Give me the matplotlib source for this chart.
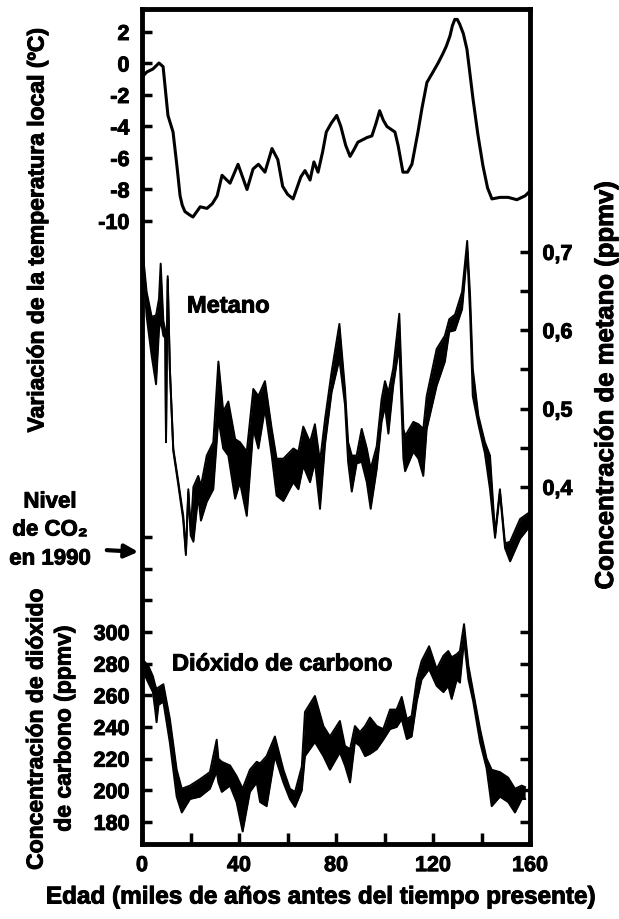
import matplotlib
matplotlib.use('Agg')
import matplotlib.pyplot as plt
import matplotlib.patheffects as pe

# ---------------- data ----------------
temp_age = [0, 2, 4.5, 7, 8.7, 10.7, 12.8, 14.4, 15.7, 16.6, 17.7, 19.5, 21, 24, 26.8,
            29, 31, 33, 36.3, 39.6, 43.3, 45.8, 48, 50.7, 53.6, 56, 58, 60, 62.3, 65.5,
            67.2, 69.3, 70.9, 72.6, 74.5, 76, 78, 80.3, 82, 84, 85.8, 87.3, 89, 92.8,
            94.8, 96.5, 98, 99.5, 101, 104.3, 105.6, 107.6, 109.5, 111.3, 113.8, 115.5,
            117.5, 120, 122, 124, 125.5, 127, 128, 129, 130, 131, 132.5, 134, 135.2,
            136.5, 138.5, 140.6, 142.5, 144.3, 147.6, 151, 154.6, 158, 160]
temp_val = [-0.86, -0.54, -0.35, 0.03, -0.2, -3.3, -4.35, -6.5, -8.4, -9.0, -9.4, -9.6,
            -9.75, -9.1, -9.2, -8.9, -8.4, -7.1, -7.6, -6.4, -8.0, -6.7, -6.4, -6.9, -5.4,
            -6.1, -7.8, -8.3, -8.6, -7.2, -6.8, -7.4, -6.25, -6.9, -5.6, -4.35, -3.8,
            -3.3, -4.0, -5.2, -5.9, -5.5, -5.0, -4.7, -4.6, -3.8, -3.0, -3.6, -4.0,
            -4.35, -5.2, -6.9, -6.9, -6.4, -4.35, -2.8, -1.2, -0.54, 0.0, 0.6, 1.1, 1.75,
            2.4, 2.8, 2.8, 2.5, 1.9, 0.9, -0.6, -2.25, -4.5, -6.5, -7.9, -8.6, -8.5,
            -8.5, -8.65, -8.4, -8.1]

ch4_age = [0.3, 1.9, 4.0, 5.8, 7.0, 7.7, 8.8, 9.6, 9.9, 10.3, 10.6, 11.5, 12.9, 15.0,
           17.0, 18.1, 19.1, 20.1, 21.2, 23.2, 24.3, 26.7, 29.4, 31.5, 33.5, 35.6, 38.4,
           40.4, 43.2, 45.9, 48.0, 50.7, 53.5, 55.5, 58.3, 62.4, 64.5, 66.5, 69.3, 71.3,
           73.4, 75.5, 78.2, 81.4, 83.7, 85.0, 86.5, 88.5, 90.6, 92.7, 94.3, 96.8, 98.8,
           100.2, 101.6, 103.6, 106.1, 107.8, 108.5, 111.9, 114.0, 116.0, 117.4, 121.5,
           124.9, 126.7, 129.1, 132.0, 134.1, 135.3, 136.4, 138.7, 141.4, 143.5, 145.6,
           147.6, 149.7, 151.8, 155.9, 160.0]
ch4_hi = [0.700, 0.649, 0.617, 0.619, 0.640, 0.685, 0.612, 0.600, 0.460, 0.590, 0.669,
          0.551, 0.449, 0.406, 0.363, 0.317, 0.397, 0.343, 0.400, 0.414, 0.401, 0.440,
          0.457, 0.560, 0.496, 0.509, 0.461, 0.457, 0.445, 0.525, 0.516, 0.535, 0.474,
          0.436, 0.436, 0.449, 0.445, 0.477, 0.457, 0.480, 0.432, 0.487, 0.547, 0.608,
          0.525, 0.457, 0.440, 0.440, 0.474, 0.449, 0.423, 0.452, 0.512, 0.535, 0.520,
          0.551, 0.621, 0.474, 0.465, 0.483, 0.480, 0.474, 0.516, 0.576, 0.593, 0.614,
          0.620, 0.649, 0.714, 0.644, 0.551, 0.491, 0.457, 0.440, 0.340, 0.397, 0.328,
          0.330, 0.359, 0.368]
ch4_lo = [0.690, 0.618, 0.567, 0.531, 0.600, 0.614, 0.593, 0.590, 0.457, 0.585, 0.665,
          0.548, 0.446, 0.402, 0.358, 0.313, 0.393, 0.338, 0.330, 0.389, 0.357, 0.381,
          0.397, 0.487, 0.449, 0.440, 0.385, 0.406, 0.363, 0.474, 0.449, 0.500, 0.440,
          0.389, 0.382, 0.406, 0.397, 0.427, 0.406, 0.432, 0.372, 0.455, 0.521, 0.563,
          0.505, 0.432, 0.394, 0.430, 0.432, 0.406, 0.372, 0.423, 0.483, 0.503, 0.468,
          0.529, 0.580, 0.436, 0.420, 0.445, 0.436, 0.414, 0.474, 0.529, 0.560, 0.598,
          0.600, 0.627, 0.700, 0.620, 0.516, 0.480, 0.443, 0.397, 0.335, 0.393, 0.322,
          0.305, 0.334, 0.350]

co2_age = [0.0, 2.6, 4.5, 5.5, 6.0, 6.8, 8.8, 11.5, 14.3, 16.4, 19.8, 23.9, 28.0, 30.8,
           31.5, 32.9, 36.3, 39.0, 41.5, 44.5, 47.3, 48.7, 51.4, 54.8, 58.3, 61.0, 63.1,
           65.9, 67.2, 71.3, 74.8, 77.5, 81.6, 83.7, 85.8, 87.8, 89.9, 92.0, 94.0, 96.8,
           99.5, 102.3, 105.0, 107.1, 109.2, 111.2, 113.3, 115.3, 118.4, 121.5, 124.3,
           126.3, 127.7, 129.8, 131.1, 132.8, 134.6, 136.6, 139.4, 142.1, 144.2, 147.6,
           151.0, 153.8, 156.6, 158.0]
co2_hi = [283, 278.7, 272, 266, 264, 265, 267, 245, 213, 201, 203, 207, 211.5, 232,
          220, 218, 215.7, 209, 201, 213, 218, 217, 221.6, 234, 213, 201, 199, 215,
          249.5, 259.6, 240.6, 234, 243.8, 228, 226, 240.6, 236.8, 240.6, 246, 240.6,
          238.7, 251, 251, 259, 245, 247, 270, 281.7, 291, 276.6, 285, 288, 284, 286,
          288, 305, 278.7, 262, 238.7, 220, 213, 211.5, 208, 201, 203, 202]
co2_lo = [276.6, 268, 262, 250, 243, 254, 256, 230, 196, 186, 194.5, 196, 201, 212,
          205, 199, 203, 192.6, 174, 199, 205, 192.6, 190, 221.6, 205, 194.5, 189.5, 200,
          221.6, 230.5, 221.6, 213, 224, 215.7, 205, 230.5, 228, 221.6, 223, 226, 232,
          238.7, 240, 245, 232.4, 234, 256, 270, 276.6, 266, 262, 266, 257.7, 270, 268,
          295, 270, 256, 230.5, 214, 190, 196, 192.6, 186, 194.5, 194.5]

x_major = [0, 40, 80, 120, 160]
x_minor = [20, 60, 100, 140]
temp_ticks = [2, 0, -2, -4, -6, -8, -10]
co2_ticks = [180, 200, 220, 240, 260, 280, 300]
co2_extra = [320, 340, 360]
ch4_ticks = [0.4, 0.5, 0.6, 0.7]
ch4_minor = [0.35, 0.45, 0.55, 0.65]

# ---------------- layout ----------------
FONT = ['Liberation Sans', 'DejaVu Sans']
plt.rcParams['font.family'] = FONT
plt.rcParams['font.weight'] = 'bold'
HEAVY = [pe.withStroke(linewidth=0.7, foreground='black')]

W, H = 619, 920
fig = plt.figure(figsize=(W / 100, H / 100), dpi=100)
fig.patch.set_facecolor('white')
L, R, T, B = 142, 530, 10, 845
rect = [L / W, 1 - B / H, (R - L) / W, (B - T) / H]

ax_t = fig.add_axes(rect)
ax_c = fig.add_axes(rect)
ax_m = fig.add_axes(rect)
ax_c2 = fig.add_axes(rect)
for a in (ax_c, ax_m, ax_c2):
    a.patch.set_visible(False)
    for s in a.spines.values():
        s.set_visible(False)
    a.set_xticks([])
for a in (ax_t, ax_c, ax_m, ax_c2):
    a.set_xlim(0, 160)

for s in ax_t.spines.values():
    s.set_linewidth(3.5)

ax_t.set_ylim(-49.56, 3.46)
ax_c.set_ylim(166.1, 693.5)
ax_c2.set_ylim(166.1, 693.5)
ax_m.set_ylim(-0.0558, 1.010)

# temperature
ax_t.plot(temp_age, temp_val, color='black', lw=2.2, solid_joinstyle='round')

# methane band
ax_m.fill_between(ch4_age, ch4_lo, ch4_hi, color='black', lw=0)
ax_m.plot(ch4_age, ch4_hi, color='black', lw=1.4)
ax_m.plot(ch4_age, ch4_lo, color='black', lw=1.4)

# CO2 band
ax_c.fill_between(co2_age, co2_lo, co2_hi, color='black', lw=0)
ax_c.plot(co2_age, co2_hi, color='black', lw=1.4)
ax_c.plot(co2_age, co2_lo, color='black', lw=1.4)

tick_font = dict(family=FONT, weight='bold', size=15.5)

# x axis
ax_t.set_xticks(x_major)
ax_t.set_xticks(x_minor, minor=True)
ax_t.set_xticklabels([str(v) for v in x_major], fontdict=tick_font)
ax_t.tick_params(axis='x', which='both', direction='in', length=8, width=2.5,
                 pad=8, top=False, bottom=True)

# temperature axis (left)
ax_t.set_yticks(temp_ticks)
ax_t.set_yticklabels([str(v) for v in temp_ticks], fontdict=tick_font)
ax_t.tick_params(axis='y', direction='in', length=7, width=2.5, pad=9,
                 left=True, right=False)

# CO2 axis (left labels + right ticks)
ax_c.set_yticks(co2_ticks + co2_extra)
ax_c.set_yticklabels([str(v) for v in co2_ticks] + [''] * len(co2_extra), fontdict=tick_font)
ax_c.tick_params(axis='y', direction='in', length=7, width=2.5, pad=9,
                 left=True, right=False)
ax_c2.yaxis.tick_right()
ax_c2.set_yticks(co2_ticks)
ax_c2.set_yticklabels([])
ax_c2.tick_params(axis='y', direction='in', length=7, width=2.5)

# methane axis (right)
ax_m.yaxis.tick_right()
ax_m.set_yticks(ch4_ticks)
ax_m.set_yticks(ch4_minor, minor=True)
ax_m.set_yticklabels([f'{v:.1f}'.replace('.', ',') for v in ch4_ticks], fontdict=tick_font)
ax_m.tick_params(axis='y', which='both', direction='in', length=7, width=2.5, pad=9)

for a in (ax_t, ax_c, ax_m):
    for lbl in a.get_xticklabels() + a.get_yticklabels():
        lbl.set_path_effects(HEAVY)


def ftext(x, y, s, **kw):
    t = fig.text(x / W, 1 - y / H, s, **kw)
    t.set_path_effects(HEAVY)


lab = dict(ha='center', va='center', weight='bold', family=FONT)
ftext(37, 232, 'Variación de la temperatura local (ºC)', rotation=90, fontsize=16.5, **lab)
ftext(36, 731, 'Concentración de dióxido', rotation=90, fontsize=16.5, **lab)
ftext(64, 730, 'de carbono (ppmv)', rotation=90, fontsize=16.5, **lab)
ftext(606, 386, 'Concentración de metano (ppmv)', rotation=90, fontsize=18.5, **lab)
ftext(321, 898, 'Edad (miles de años antes del tiempo presente)', fontsize=17.5, **lab)

ftext(50, 503, 'Nivel', fontsize=16, **lab)
ftext(50, 531, 'de CO₂', fontsize=16, **lab)
ftext(50, 560, 'en 1990', fontsize=16, **lab)

ftext(187, 307, 'Metano', ha='left', va='center', fontsize=17, weight='bold', family=FONT)
ftext(172, 665, 'Dióxido de carbono', ha='left', va='center', fontsize=17, weight='bold',
      family=FONT)

ax_t.annotate('', xy=(141 / W, 1 - 553 / H), xytext=(104 / W, 1 - 551 / H),
              xycoords='figure fraction', textcoords='figure fraction',
              arrowprops=dict(arrowstyle='-|>', lw=3, color='black', mutation_scale=20),
              annotation_clip=False)

fig.savefig('out.png', dpi=100, facecolor='white')
